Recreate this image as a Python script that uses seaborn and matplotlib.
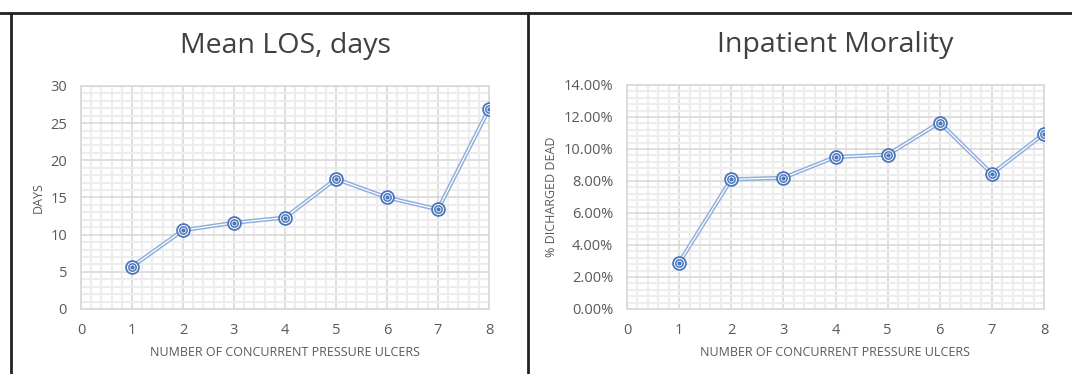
import numpy as np
import pandas as pd
import seaborn as sns
import matplotlib.pyplot as plt
from matplotlib.lines import Line2D
from matplotlib.ticker import MultipleLocator, PercentFormatter

ulcers = [1, 2, 3, 4, 5, 6, 7, 8]
mean_los = [5.7, 10.6, 11.6, 12.3, 17.5, 15.0, 13.4, 26.9]
mortality_pct = [2.9, 8.1, 8.2, 9.5, 9.65, 11.65, 8.45, 10.95]

los_df = pd.DataFrame({'ulcers': ulcers, 'value': mean_los})
mort_df = pd.DataFrame({'ulcers': ulcers, 'value': mortality_pct})

sns.set_theme(style='white')
plt.rcParams['font.family'] = ['Open Sans', 'DejaVu Sans']
text_grey = '#595959'
line_blue = '#8EAEDC'
mark_blue = '#4A76BE'

f = plt.figure(figsize=(10.72, 3.74), dpi=100)
ax_los = f.add_axes([81/1072, 1-309/374, 408/1072, 223/374])
ax_mort = f.add_axes([627/1072, 1-309/374, 417/1072, 224/374])


def draw_panel(ax, df, title, ylabel, ymax, ystep):
    sns.lineplot(ax=ax, data=df, x='ulcers', y='value', color=line_blue, lw=3.0, zorder=3)
    sns.lineplot(ax=ax, data=df, x='ulcers', y='value', color='white', lw=0.9, zorder=4)
    ax.scatter(df['ulcers'], df['value'], s=85, facecolor='white', edgecolor=mark_blue, lw=1.3, zorder=5)
    ax.scatter(df['ulcers'], df['value'], s=28, facecolor='white', edgecolor=mark_blue, lw=1.1, zorder=6)
    ax.scatter(df['ulcers'], df['value'], s=4, color=mark_blue, zorder=7)
    ax.set_xlim(0, 8)
    ax.set_ylim(0, ymax)
    ax.xaxis.set_major_locator(MultipleLocator(1))
    ax.xaxis.set_minor_locator(MultipleLocator(0.2))
    ax.yaxis.set_major_locator(MultipleLocator(ystep))
    ax.yaxis.set_minor_locator(MultipleLocator(ystep / 5))
    ax.grid(which='major', color='#D9D9D9', lw=1.2, zorder=1)
    ax.grid(which='minor', color='#EDEDED', lw=1.6, zorder=0)
    for s in ax.spines.values():
        s.set_color('#D9D9D9')
    ax.tick_params(axis='both', which='both', length=0, labelsize=10.5, colors=text_grey, pad=10)
    ax.set_xlabel('NUMBER OF CONCURRENT PRESSURE ULCERS', fontsize=9, color=text_grey, labelpad=6)
    ax.set_ylabel(ylabel, fontsize=9, color=text_grey)
    ax.set_title(title, fontsize=20.5, color='#404040', pad=24)


draw_panel(ax_los, los_df, 'Mean LOS, days', 'DAYS', 30, 5)
draw_panel(ax_mort, mort_df, 'Inpatient Morality', '% DICHARGED DEAD', 14, 2)
ax_mort.yaxis.set_major_formatter(PercentFormatter(decimals=2))

# panel frame lines
for xy in [([0, 1], [1-13/374, 1-13/374]),
           ([11/1072, 11/1072], [0, 1-13/374]),
           ([528/1072, 528/1072], [0, 1-13/374])]:
    f.add_artist(Line2D(xy[0], xy[1], color='#222222', lw=2))

f.savefig('out.png', dpi=100)
